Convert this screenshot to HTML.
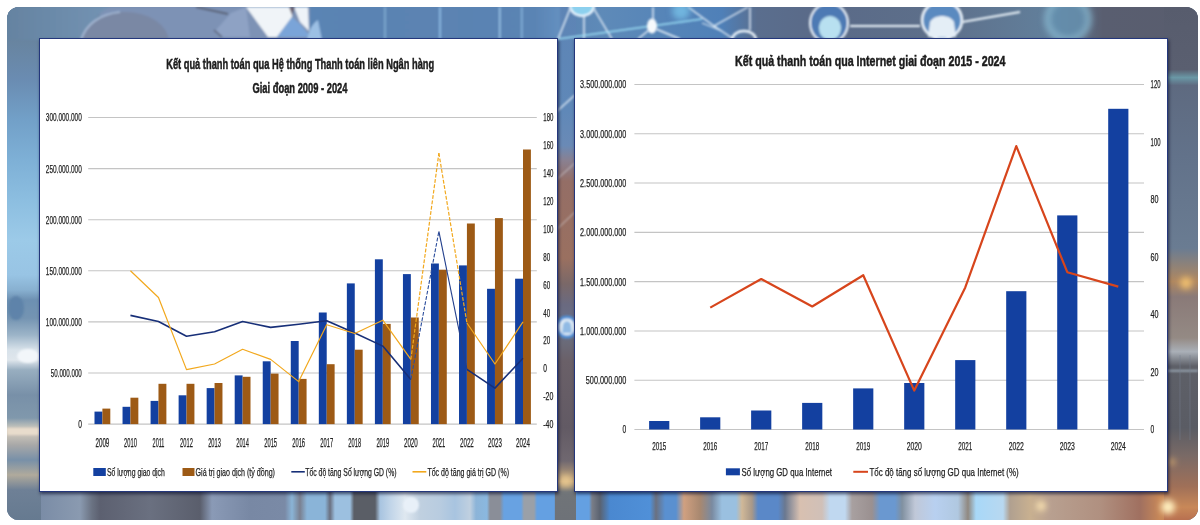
<!DOCTYPE html>
<html><head><meta charset="utf-8">
<style>
html,body{margin:0;padding:0;background:#fff;}
body{width:1200px;height:525px;position:relative;overflow:hidden;font-family:"Liberation Sans",sans-serif;}
.photo{position:absolute;left:7px;top:7px;width:1191px;height:513px;border-radius:12px;overflow:hidden;background:#6a7f98;}
.photo div{position:absolute;}
.panel{position:absolute;background:#fff;border:1px solid #24377c;box-shadow:1px 2px 3px rgba(10,15,45,.65);box-sizing:border-box;}
svg.main{position:absolute;left:0;top:0;filter:blur(0.35px);}
svg text{font-family:"Liberation Sans",sans-serif;stroke:#1a1a1a;stroke-width:0.25px;paint-order:stroke;}
svg text.t{stroke-width:0.5px;}
</style></head><body>
<div class="photo">
 <svg width="1191" height="513" viewBox="7 7 1191 513" style="position:absolute;left:0;top:0">
  <defs>
   <filter id="b1" x="-5%" y="-5%" width="110%" height="110%"><feGaussianBlur stdDeviation="1.2"/></filter>
   <filter id="b3" x="-20%" y="-20%" width="140%" height="140%"><feGaussianBlur stdDeviation="3"/></filter>
   <filter id="b6" x="-50%" y="-50%" width="200%" height="200%"><feGaussianBlur stdDeviation="6"/></filter>
   <linearGradient id="gTop" x1="0" x2="1" y1="0" y2="0">
    <stop offset="0" stop-color="#6684a2"/><stop offset="0.06" stop-color="#6c8aa8"/>
    <stop offset="0.14" stop-color="#7a8db0"/><stop offset="0.25" stop-color="#5b84b3"/>
    <stop offset="0.46" stop-color="#5a83b2"/><stop offset="0.5" stop-color="#5e8ab8"/>
    <stop offset="0.6" stop-color="#4f80b8"/><stop offset="0.63" stop-color="#5a6e8e"/>
    <stop offset="0.68" stop-color="#5a6a88"/><stop offset="0.78" stop-color="#5d6f8a"/>
    <stop offset="0.88" stop-color="#62809c"/><stop offset="0.92" stop-color="#595e70"/>
    <stop offset="1" stop-color="#595d6e"/>
   </linearGradient>
   <linearGradient id="gTopL" x1="0" x2="1" y1="0" y2="0"><stop offset="0" stop-color="#6583a1"/><stop offset="1" stop-color="#7393b3"/></linearGradient>
   <linearGradient id="gTopM" x1="0" x2="1" y1="0" y2="0"><stop offset="0" stop-color="#5a84b4"/><stop offset="0.5" stop-color="#5b83b2"/><stop offset="0.9" stop-color="#5a84b4"/><stop offset="1" stop-color="#6490c0"/></linearGradient>
   <linearGradient id="gLeft" x1="0" x2="0" y1="0" y2="1">
    <stop offset="0.0000" stop-color="#647f9c"/>
    <stop offset="0.0643" stop-color="#68849f"/>
    <stop offset="0.1423" stop-color="#6a8cb2"/>
    <stop offset="0.2203" stop-color="#72a0c8"/>
    <stop offset="0.2982" stop-color="#7eb0d6"/>
    <stop offset="0.3762" stop-color="#8cbee0"/>
    <stop offset="0.4542" stop-color="#9ccae8"/>
    <stop offset="0.5224" stop-color="#98c4e4"/>
    <stop offset="0.5517" stop-color="#88b0d0"/>
    <stop offset="0.5712" stop-color="#6d90b2"/>
    <stop offset="0.6062" stop-color="#7494b2"/>
    <stop offset="0.6394" stop-color="#9cb4c8"/>
    <stop offset="0.6686" stop-color="#d8e2ea"/>
    <stop offset="0.6881" stop-color="#dfe6ec"/>
    <stop offset="0.7076" stop-color="#98aec0"/>
    <stop offset="0.7563" stop-color="#7890a8"/>
    <stop offset="0.8012" stop-color="#8098ac"/>
    <stop offset="0.8246" stop-color="#d8d0c0"/>
    <stop offset="0.8538" stop-color="#a8a8a8"/>
    <stop offset="0.8830" stop-color="#7890a8"/>
    <stop offset="0.9123" stop-color="#b0aa9c"/>
    <stop offset="0.9415" stop-color="#6e8096"/>
    <stop offset="1.0000" stop-color="#667a90"/>
   </linearGradient>
   <linearGradient id="gRight" x1="0" x2="0" y1="0" y2="1">
    <stop offset="0" stop-color="#575c6d"/><stop offset="0.122" stop-color="#5a5f70"/>
    <stop offset="0.1376" stop-color="#6a98a6"/><stop offset="0.153" stop-color="#5e6a80"/>
    <stop offset="0.29" stop-color="#62728a"/><stop offset="0.47" stop-color="#6a7c92"/>
    <stop offset="0.535" stop-color="#b08860"/><stop offset="0.565" stop-color="#8a7a78"/>
    <stop offset="0.645" stop-color="#948a84"/><stop offset="0.672" stop-color="#aab0b8"/>
    <stop offset="0.70" stop-color="#5e6068"/><stop offset="0.82" stop-color="#5a5c64"/>
    <stop offset="0.875" stop-color="#7a6a66"/><stop offset="0.935" stop-color="#a07058"/>
    <stop offset="0.975" stop-color="#c88858"/><stop offset="1" stop-color="#b87050"/>
   </linearGradient>
   <linearGradient id="gMid" x1="0" x2="0" y1="0" y2="1">
    <stop offset="0" stop-color="#5d84b5"/><stop offset="0.2" stop-color="#5f88b8"/>
    <stop offset="0.27" stop-color="#6a8ab6"/><stop offset="0.30" stop-color="#8a8090"/>
    <stop offset="0.34" stop-color="#946e66"/><stop offset="0.49" stop-color="#9a7060"/>
    <stop offset="0.54" stop-color="#7a6868"/><stop offset="0.58" stop-color="#6a6a80"/>
    <stop offset="0.62" stop-color="#6a7088"/><stop offset="0.655" stop-color="#6a6a78"/>
    <stop offset="0.69" stop-color="#6a6068"/>
    <stop offset="0.82" stop-color="#625a64"/><stop offset="0.885" stop-color="#706870"/>
    <stop offset="0.925" stop-color="#c8a878"/><stop offset="0.945" stop-color="#707478"/>
    <stop offset="1" stop-color="#6e7278"/>
   </linearGradient>
   <linearGradient id="gBot" x1="0" x2="1" y1="0" y2="0">
    <stop offset="0.0000" stop-color="#6784a3"/>
    <stop offset="0.0277" stop-color="#7a8ca6"/>
    <stop offset="0.0613" stop-color="#8a9ab0"/>
    <stop offset="0.0714" stop-color="#6a7282"/>
    <stop offset="0.0781" stop-color="#5c6070"/>
    <stop offset="0.1201" stop-color="#6a7080"/>
    <stop offset="0.1620" stop-color="#5a5e6c"/>
    <stop offset="0.1721" stop-color="#8a9ab6"/>
    <stop offset="0.2040" stop-color="#7888a4"/>
    <stop offset="0.2334" stop-color="#7a8aa6"/>
    <stop offset="0.2393" stop-color="#8ab4d6"/>
    <stop offset="0.2460" stop-color="#7a8090"/>
    <stop offset="0.2519" stop-color="#8ab4d8"/>
    <stop offset="0.2670" stop-color="#8ab4d8"/>
    <stop offset="0.2712" stop-color="#6a7080"/>
    <stop offset="0.2754" stop-color="#9cc0e0"/>
    <stop offset="0.2880" stop-color="#9cc0e0"/>
    <stop offset="0.2914" stop-color="#5a5e66"/>
    <stop offset="0.3090" stop-color="#5a5e66"/>
    <stop offset="0.3132" stop-color="#a8c4e0"/>
    <stop offset="0.3216" stop-color="#c0d4e8"/>
    <stop offset="0.3342" stop-color="#dfe8f0"/>
    <stop offset="0.3468" stop-color="#c0d0e0"/>
    <stop offset="0.3636" stop-color="#b8cce0"/>
    <stop offset="0.3762" stop-color="#a8c4e0"/>
    <stop offset="0.3887" stop-color="#c0d0e0"/>
    <stop offset="0.3938" stop-color="#8cb4d8"/>
    <stop offset="0.4030" stop-color="#8ab8e0"/>
    <stop offset="0.4055" stop-color="#8a8e98"/>
    <stop offset="0.4139" stop-color="#8a8e98"/>
    <stop offset="0.4173" stop-color="#68a2e2"/>
    <stop offset="0.4316" stop-color="#68a2e2"/>
    <stop offset="0.4341" stop-color="#9aa0a8"/>
    <stop offset="0.4425" stop-color="#9aa0a8"/>
    <stop offset="0.4450" stop-color="#64a0e2"/>
    <stop offset="0.4593" stop-color="#64a0e2"/>
    <stop offset="0.4618" stop-color="#707478"/>
    <stop offset="0.4727" stop-color="#707478"/>
    <stop offset="0.4752" stop-color="#64a0e2"/>
    <stop offset="0.4887" stop-color="#64a0e2"/>
    <stop offset="0.4912" stop-color="#7a7e88"/>
    <stop offset="0.4979" stop-color="#5a6270"/>
    <stop offset="0.5063" stop-color="#4a88d0"/>
    <stop offset="0.5399" stop-color="#5090d8"/>
    <stop offset="0.5449" stop-color="#6a7080"/>
    <stop offset="0.5525" stop-color="#5a90d0"/>
    <stop offset="0.5617" stop-color="#5a90d0"/>
    <stop offset="0.5684" stop-color="#d0a080"/>
    <stop offset="0.5819" stop-color="#a88870"/>
    <stop offset="0.5919" stop-color="#7a8aa0"/>
    <stop offset="0.6003" stop-color="#9ac0e0"/>
    <stop offset="0.6121" stop-color="#9ac0e0"/>
    <stop offset="0.6171" stop-color="#d0b898"/>
    <stop offset="0.6255" stop-color="#a89888"/>
    <stop offset="0.6306" stop-color="#5a88c8"/>
    <stop offset="0.6474" stop-color="#5a88c8"/>
    <stop offset="0.6532" stop-color="#6a7890"/>
    <stop offset="0.6658" stop-color="#d8c0b0"/>
    <stop offset="0.6843" stop-color="#d0c0b8"/>
    <stop offset="0.6910" stop-color="#c0d8f0"/>
    <stop offset="0.7036" stop-color="#c0d8f0"/>
    <stop offset="0.7095" stop-color="#a8a0a0"/>
    <stop offset="0.7263" stop-color="#9a9090"/>
    <stop offset="0.7330" stop-color="#6a98d0"/>
    <stop offset="0.7456" stop-color="#6a98d0"/>
    <stop offset="0.7515" stop-color="#8090a0"/>
    <stop offset="0.7624" stop-color="#c0c8d8"/>
    <stop offset="0.7792" stop-color="#b8d0f0"/>
    <stop offset="0.7985" stop-color="#b0c8e0"/>
    <stop offset="0.8069" stop-color="#908880"/>
    <stop offset="0.8136" stop-color="#a8d8f8"/>
    <stop offset="0.8363" stop-color="#b8d8f0"/>
    <stop offset="0.8421" stop-color="#b0a090"/>
    <stop offset="0.8589" stop-color="#c8b090"/>
    <stop offset="0.8757" stop-color="#b8a090"/>
    <stop offset="0.9177" stop-color="#b09080"/>
    <stop offset="0.9513" stop-color="#a07060"/>
    <stop offset="0.9681" stop-color="#c88858"/>
    <stop offset="0.9849" stop-color="#c07850"/>
    <stop offset="1.0000" stop-color="#b06848"/>
   </linearGradient>
  </defs>
  <rect x="7" y="7" width="1191" height="513" fill="#6a7f98"/>
  <rect x="7" y="7" width="1191" height="36" fill="url(#gTop)"/>
  <rect x="7" y="485" width="1191" height="35" fill="url(#gBot)"/>
  <rect x="7" y="7" width="34" height="513" fill="url(#gLeft)"/>
  <rect x="1164" y="7" width="34" height="513" fill="url(#gRight)"/>
  <rect x="555" y="7" width="21" height="513" fill="url(#gMid)"/>
  <g filter="url(#b1)">
   <!-- suit area -->
   <path d="M100 7 L 312 7 L 312 40 L 100 40 Z" fill="#7d92b5"/>
   <path d="M7 7 L 110 7 C 100 12, 90 20, 84 40 L 7 40 Z" fill="url(#gTopL)"/>
   <!-- shoulder dome -->
   <ellipse cx="125" cy="42" rx="44" ry="30" fill="#7a88a4"/>
   <path d="M81 40 C 86 24, 100 14, 120 12" stroke="#a8bcd8" stroke-width="1.6" fill="none"/>
   <!-- shadow line -->
   <path d="M196 7 L 228 14" stroke="#5a6276" stroke-width="2" fill="none"/>
   <!-- lapel -->
   <path d="M216 30 L 231 13 L 246 7 L 250 37 L 222 37 Z" fill="#8ea2c4"/>
   <path d="M214 30 L 222 37" stroke="#5a6276" stroke-width="1.5"/>
   <!-- shirt white -->
   <path d="M246 7 L 292 7 L 292 17 L 277 37 L 268 37 Z" fill="#f0f4f8"/>
   <!-- tie -->
   <path d="M292 17 L 300 24 L 311 37 L 277 37 Z" fill="#7aa4d8"/>
   <path d="M294 7 L 308 7 L 309 31 L 300 22 Z" fill="#eef3f8"/>
   <path d="M289 7 L 295 7 L 292 15 Z" fill="#6a6070"/>
   <!-- right blue -->
   <path d="M310 7 L 560 7 L 560 40 L 309 40 Z" fill="url(#gTopM)"/>
   <path d="M307 40 C 309 30, 312 24, 318 20 L 322 40 Z" fill="#9cc0e4"/>
   <!-- vertical light lines -->
   <rect x="384" y="7" width="2" height="33" fill="#7aa4cc"/>
   <rect x="439" y="7" width="2" height="33" fill="#86b2dc"/>
   <rect x="499" y="7" width="1.5" height="33" fill="#9ac4e8"/>
   <rect x="521" y="7" width="1.5" height="33" fill="#86b2dc"/>
  </g>
  <g filter="url(#b1)" stroke="#eef6fc" fill="none" stroke-width="1.4">
   <path d="M570 9 L 558 39"/>
   <path d="M594 9 L 612 39"/>
   <path d="M584 15 L 584 39"/>
   <path d="M558 39 L 702 19" stroke="#9ee0f6" stroke-width="1.6"/>
   <path d="M653 7 L 653 20"/>
   <path d="M649 30 L 638 39"/>
   <path d="M656 29 L 680 39"/>
   <path d="M688 7 L 714 26 L 748 7"/>
   <path d="M714 26 L 732 38"/>
   <path d="M702 23 L 722 31" stroke-width="1"/>
   <path d="M750 7 L 750 30"/>
   <path d="M732 40 C 733 28, 755 28, 756 40" stroke-width="2.4"/>
   <path d="M850 26 L 920 26" stroke-width="2"/>
   <path d="M962 22 L 1020 12" stroke-width="1.8"/>
   <path d="M556 112 L 575 95" stroke-width="1.2"/>
   <path d="M556 180 L 575 163" stroke-width="1" opacity="0.7"/>
   <path d="M556 230 L 575 212" stroke-width="1" opacity="0.7"/>
  </g>
  <g filter="url(#b1)">
   <ellipse cx="582" cy="6" rx="12" ry="10" fill="#8cd0ee" stroke="#f0f8ff" stroke-width="2"/>
   <ellipse cx="652" cy="26" rx="5" ry="7.5" fill="#f6f9fc"/>
   <ellipse cx="829" cy="23" rx="19" ry="20" fill="#4e7ab4" stroke="#eef6fc" stroke-width="2"/>
   <ellipse cx="830" cy="28" rx="11" ry="12" fill="#b8e0f0"/>
   <ellipse cx="942" cy="20" rx="20" ry="19" fill="#5a8ac0" stroke="#eef6fc" stroke-width="2.5"/>
   <path d="M928 37 L 930 22 C 934 14, 950 14, 954 22 L 956 37 Z" fill="#e4eef6"/>
  </g>
  <g filter="url(#b3)">
   <circle cx="1068" cy="19" r="21" fill="#6490ae" stroke="#8cbcd4" stroke-width="5" opacity="0.85"/>
   <circle cx="681" cy="11" r="9" fill="#7ecbf0" opacity="0.7"/>
  </g>
  <g filter="url(#b3)">
   <circle cx="1186" cy="283" r="6" fill="#f0c070"/>
   <circle cx="1168" cy="507" r="7" fill="#fff0c0"/>
   <circle cx="1041" cy="506" r="5" fill="#f8e0b0"/>
   <circle cx="1172" cy="462" r="3" fill="#e0b070"/>
   <circle cx="566" cy="481" r="6" fill="#e8c890"/>
  </g>
  <g filter="url(#b1)">
   <circle cx="567" cy="327" r="10" fill="#e0ecf6" stroke="#4f8fd6" stroke-width="3"/>
   <path d="M562 333 L 563 325 C 564 320, 570 320, 571 325 L 572 333 Z" fill="#5a9ad8" opacity="0.6"/>
   <ellipse cx="28" cy="356" rx="11" ry="7" fill="#f2f6fa"/>
   <ellipse cx="16" cy="308" rx="8" ry="12" fill="#5a80a8" opacity="0.8"/>
   <rect x="7" y="428" width="32" height="7" fill="#e8dccc"/>
   <circle cx="411" cy="505" r="8" fill="#e8f0f8"/>
   <rect x="1164" y="370" width="34" height="1.5" fill="#a8b8c8"/>
  </g>
  <g stroke="#7a8090" stroke-width="0.8" opacity="0.6">
   <line x1="1180" y1="355" x2="1180" y2="440"/>
   <line x1="1190" y1="355" x2="1190" y2="440"/>
  </g>
 </svg>
</div>
<div class="panel" style="left:39px;top:38px;width:519px;height:454px;"></div>
<div class="panel" style="left:574px;top:38px;width:594px;height:454px;"></div>
<svg class="main" width="1200" height="525" viewBox="0 0 1200 525">
<line x1="88.2" y1="117.50" x2="536.8" y2="117.50" stroke="#c4c4c4" stroke-width="1.1"/>
<line x1="88.2" y1="168.60" x2="536.8" y2="168.60" stroke="#c4c4c4" stroke-width="1.1"/>
<line x1="88.2" y1="219.70" x2="536.8" y2="219.70" stroke="#c4c4c4" stroke-width="1.1"/>
<line x1="88.2" y1="270.80" x2="536.8" y2="270.80" stroke="#c4c4c4" stroke-width="1.1"/>
<line x1="88.2" y1="321.90" x2="536.8" y2="321.90" stroke="#c4c4c4" stroke-width="1.1"/>
<line x1="88.2" y1="373.00" x2="536.8" y2="373.00" stroke="#c4c4c4" stroke-width="1.1"/>
<line x1="88.2" y1="424.10" x2="536.8" y2="424.10" stroke="#c4c4c4" stroke-width="1.1"/>
<rect x="94.50" y="411.60" width="7.9" height="12.50" fill="#1340a0"/>
<rect x="102.40" y="408.60" width="7.9" height="15.50" fill="#9d5a15"/>
<rect x="122.54" y="406.80" width="7.9" height="17.30" fill="#1340a0"/>
<rect x="130.44" y="397.70" width="7.9" height="26.40" fill="#9d5a15"/>
<rect x="150.58" y="400.90" width="7.9" height="23.20" fill="#1340a0"/>
<rect x="158.48" y="383.80" width="7.9" height="40.30" fill="#9d5a15"/>
<rect x="178.62" y="395.30" width="7.9" height="28.80" fill="#1340a0"/>
<rect x="186.52" y="383.80" width="7.9" height="40.30" fill="#9d5a15"/>
<rect x="206.66" y="388.10" width="7.9" height="36.00" fill="#1340a0"/>
<rect x="214.56" y="383.00" width="7.9" height="41.10" fill="#9d5a15"/>
<rect x="234.70" y="375.40" width="7.9" height="48.70" fill="#1340a0"/>
<rect x="242.60" y="376.80" width="7.9" height="47.30" fill="#9d5a15"/>
<rect x="262.74" y="361.30" width="7.9" height="62.80" fill="#1340a0"/>
<rect x="270.64" y="373.60" width="7.9" height="50.50" fill="#9d5a15"/>
<rect x="290.78" y="341.00" width="7.9" height="83.10" fill="#1340a0"/>
<rect x="298.68" y="378.90" width="7.9" height="45.20" fill="#9d5a15"/>
<rect x="318.82" y="312.50" width="7.9" height="111.60" fill="#1340a0"/>
<rect x="326.72" y="364.20" width="7.9" height="59.90" fill="#9d5a15"/>
<rect x="346.86" y="283.40" width="7.9" height="140.70" fill="#1340a0"/>
<rect x="354.76" y="349.70" width="7.9" height="74.40" fill="#9d5a15"/>
<rect x="374.90" y="259.30" width="7.9" height="164.80" fill="#1340a0"/>
<rect x="382.80" y="323.90" width="7.9" height="100.20" fill="#9d5a15"/>
<rect x="402.94" y="274.10" width="7.9" height="150.00" fill="#1340a0"/>
<rect x="410.84" y="317.50" width="7.9" height="106.60" fill="#9d5a15"/>
<rect x="430.98" y="263.50" width="7.9" height="160.60" fill="#1340a0"/>
<rect x="438.88" y="269.70" width="7.9" height="154.40" fill="#9d5a15"/>
<rect x="459.02" y="265.40" width="7.9" height="158.70" fill="#1340a0"/>
<rect x="466.92" y="223.50" width="7.9" height="200.60" fill="#9d5a15"/>
<rect x="487.06" y="288.80" width="7.9" height="135.30" fill="#1340a0"/>
<rect x="494.96" y="218.10" width="7.9" height="206.00" fill="#9d5a15"/>
<rect x="515.10" y="278.70" width="7.9" height="145.40" fill="#1340a0"/>
<rect x="523.00" y="149.50" width="7.9" height="274.60" fill="#9d5a15"/>
<polyline points="130.44,315.40 158.48,321.50 186.52,336.20 214.56,331.70 242.60,321.50 270.64,327.40 298.68,324.20 326.72,320.70 354.76,333.00 382.80,346.10 410.84,379.40" fill="none" stroke="#172f78" stroke-width="1.6" stroke-linejoin="round"/>
<polyline points="466.92,369.40 494.96,388.10 523.00,358.20" fill="none" stroke="#172f78" stroke-width="1.6" stroke-linejoin="round"/>
<line x1="410.84" y1="379.4" x2="438.88" y2="231.4" stroke="#2a4c9c" stroke-width="1.1" stroke-dasharray="3.8 1.6"/>
<polyline points="438.88,231.4 466.92,369.4" fill="none" stroke="#223f8c" stroke-width="1.1"/>
<line x1="410.84" y1="359.40" x2="438.88" y2="153.20" stroke="#f2a81d" stroke-width="1.2" stroke-dasharray="3.8 1.6"/>
<line x1="438.88" y1="153.20" x2="466.92" y2="323.00" stroke="#f2a81d" stroke-width="1.2" stroke-dasharray="3.8 1.6"/>
<polyline points="130.44,270.80 158.48,297.50 186.52,369.60 214.56,364.00 242.60,349.30 270.64,359.40 298.68,381.60 326.72,324.70 354.76,333.50 382.80,320.20 410.84,359.40" fill="none" stroke="#f2a81d" stroke-width="1.2" stroke-linejoin="round"/>
<polyline points="466.92,323.00 494.96,364.00 523.00,321.90" fill="none" stroke="#f2a81d" stroke-width="1.2" stroke-linejoin="round"/>
<text x="45.8" y="121.40" font-size="11" fill="#222" textLength="36" lengthAdjust="spacingAndGlyphs">300.000.000</text>
<text x="45.8" y="172.50" font-size="11" fill="#222" textLength="36" lengthAdjust="spacingAndGlyphs">250.000.000</text>
<text x="45.8" y="223.60" font-size="11" fill="#222" textLength="36" lengthAdjust="spacingAndGlyphs">200.000.000</text>
<text x="45.8" y="274.70" font-size="11" fill="#222" textLength="36" lengthAdjust="spacingAndGlyphs">150.000.000</text>
<text x="45.8" y="325.80" font-size="11" fill="#222" textLength="36" lengthAdjust="spacingAndGlyphs">100.000.000</text>
<text x="50.8" y="376.90" font-size="11" fill="#222" textLength="31" lengthAdjust="spacingAndGlyphs">50.000.000</text>
<text x="78.2" y="428.00" font-size="11" fill="#222" textLength="3.7" lengthAdjust="spacingAndGlyphs">0</text>
<text x="543.3" y="121.40" font-size="11" fill="#222" textLength="10.1" lengthAdjust="spacingAndGlyphs">180</text>
<text x="543.3" y="149.27" font-size="11" fill="#222" textLength="10.1" lengthAdjust="spacingAndGlyphs">160</text>
<text x="543.3" y="177.15" font-size="11" fill="#222" textLength="10.1" lengthAdjust="spacingAndGlyphs">140</text>
<text x="543.3" y="205.02" font-size="11" fill="#222" textLength="10.1" lengthAdjust="spacingAndGlyphs">120</text>
<text x="543.3" y="232.89" font-size="11" fill="#222" textLength="10.1" lengthAdjust="spacingAndGlyphs">100</text>
<text x="543.3" y="260.76" font-size="11" fill="#222" textLength="6.9" lengthAdjust="spacingAndGlyphs">80</text>
<text x="543.3" y="288.64" font-size="11" fill="#222" textLength="6.9" lengthAdjust="spacingAndGlyphs">60</text>
<text x="543.3" y="316.51" font-size="11" fill="#222" textLength="6.9" lengthAdjust="spacingAndGlyphs">40</text>
<text x="543.3" y="344.38" font-size="11" fill="#222" textLength="6.9" lengthAdjust="spacingAndGlyphs">20</text>
<text x="543.3" y="372.25" font-size="11" fill="#222" textLength="3.7" lengthAdjust="spacingAndGlyphs">0</text>
<text x="543.3" y="400.13" font-size="11" fill="#222" textLength="10.1" lengthAdjust="spacingAndGlyphs">-20</text>
<text x="543.3" y="428.00" font-size="11" fill="#222" textLength="10.1" lengthAdjust="spacingAndGlyphs">-40</text>
<text x="95.50" y="446.6" font-size="12" fill="#222" textLength="13.8" lengthAdjust="spacingAndGlyphs">2009</text>
<text x="124.04" y="446.6" font-size="12" fill="#222" textLength="12.8" lengthAdjust="spacingAndGlyphs">2010</text>
<text x="152.58" y="446.6" font-size="12" fill="#222" textLength="11.8" lengthAdjust="spacingAndGlyphs">2011</text>
<text x="180.12" y="446.6" font-size="12" fill="#222" textLength="12.8" lengthAdjust="spacingAndGlyphs">2012</text>
<text x="208.16" y="446.6" font-size="12" fill="#222" textLength="12.8" lengthAdjust="spacingAndGlyphs">2013</text>
<text x="236.20" y="446.6" font-size="12" fill="#222" textLength="12.8" lengthAdjust="spacingAndGlyphs">2014</text>
<text x="264.24" y="446.6" font-size="12" fill="#222" textLength="12.8" lengthAdjust="spacingAndGlyphs">2015</text>
<text x="292.28" y="446.6" font-size="12" fill="#222" textLength="12.8" lengthAdjust="spacingAndGlyphs">2016</text>
<text x="320.32" y="446.6" font-size="12" fill="#222" textLength="12.8" lengthAdjust="spacingAndGlyphs">2017</text>
<text x="348.36" y="446.6" font-size="12" fill="#222" textLength="12.8" lengthAdjust="spacingAndGlyphs">2018</text>
<text x="376.40" y="446.6" font-size="12" fill="#222" textLength="12.8" lengthAdjust="spacingAndGlyphs">2019</text>
<text x="403.94" y="446.6" font-size="12" fill="#222" textLength="13.8" lengthAdjust="spacingAndGlyphs">2020</text>
<text x="432.48" y="446.6" font-size="12" fill="#222" textLength="12.8" lengthAdjust="spacingAndGlyphs">2021</text>
<text x="460.02" y="446.6" font-size="12" fill="#222" textLength="13.8" lengthAdjust="spacingAndGlyphs">2022</text>
<text x="488.06" y="446.6" font-size="12" fill="#222" textLength="13.8" lengthAdjust="spacingAndGlyphs">2023</text>
<text x="516.10" y="446.6" font-size="12" fill="#222" textLength="13.8" lengthAdjust="spacingAndGlyphs">2024</text>
<rect x="93.3" y="468" width="12.5" height="8" fill="#1340a0"/>
<text x="107" y="476" font-size="11.5" fill="#222" textLength="57.8" lengthAdjust="spacingAndGlyphs">Số lượng giao dịch</text>
<rect x="182.5" y="468" width="12" height="8" fill="#9d5a15"/>
<text x="195.6" y="476" font-size="11.5" fill="#222" textLength="79.4" lengthAdjust="spacingAndGlyphs">Giá trị giao dịch (tỷ đồng)</text>
<line x1="291.3" y1="471.8" x2="304.8" y2="471.8" stroke="#172f78" stroke-width="1.6"/>
<text x="305.3" y="476" font-size="11.5" fill="#222" textLength="91.2" lengthAdjust="spacingAndGlyphs">Tốc độ tăng Số lượng GD (%)</text>
<line x1="412.5" y1="471.8" x2="426.3" y2="471.8" stroke="#f2a81d" stroke-width="1.6"/>
<text x="427.4" y="476" font-size="11.5" fill="#222" textLength="81.6" lengthAdjust="spacingAndGlyphs">Tốc độ tăng giá trị GD (%)</text>
<text x="166.2" y="68.8" class="t" font-size="15.2" font-weight="bold" fill="#1b1b1b" textLength="268" lengthAdjust="spacingAndGlyphs">Kết quả thanh toán qua Hệ thống Thanh toán liên Ngân hàng</text>
<text x="252.5" y="93.1" class="t" font-size="15.2" font-weight="bold" fill="#1b1b1b" textLength="95" lengthAdjust="spacingAndGlyphs">Giai đoạn 2009 - 2024</text>
<line x1="634.4" y1="84.50" x2="1144" y2="84.50" stroke="#c4c4c4" stroke-width="1.1"/>
<line x1="634.4" y1="133.79" x2="1144" y2="133.79" stroke="#c4c4c4" stroke-width="1.1"/>
<line x1="634.4" y1="183.07" x2="1144" y2="183.07" stroke="#c4c4c4" stroke-width="1.1"/>
<line x1="634.4" y1="232.36" x2="1144" y2="232.36" stroke="#c4c4c4" stroke-width="1.1"/>
<line x1="634.4" y1="281.64" x2="1144" y2="281.64" stroke="#c4c4c4" stroke-width="1.1"/>
<line x1="634.4" y1="330.93" x2="1144" y2="330.93" stroke="#c4c4c4" stroke-width="1.1"/>
<line x1="634.4" y1="380.21" x2="1144" y2="380.21" stroke="#c4c4c4" stroke-width="1.1"/>
<line x1="634.4" y1="429.50" x2="1144" y2="429.50" stroke="#c4c4c4" stroke-width="1.1"/>
<rect x="649.11" y="421.00" width="20.2" height="8.50" fill="#1340a0"/>
<rect x="700.12" y="417.30" width="20.2" height="12.20" fill="#1340a0"/>
<rect x="751.12" y="410.50" width="20.2" height="19.00" fill="#1340a0"/>
<rect x="802.13" y="402.90" width="20.2" height="26.60" fill="#1340a0"/>
<rect x="853.14" y="388.40" width="20.2" height="41.10" fill="#1340a0"/>
<rect x="904.16" y="383.00" width="20.2" height="46.50" fill="#1340a0"/>
<rect x="955.17" y="360.10" width="20.2" height="69.40" fill="#1340a0"/>
<rect x="1006.18" y="291.20" width="20.2" height="138.30" fill="#1340a0"/>
<rect x="1057.19" y="215.40" width="20.2" height="214.10" fill="#1340a0"/>
<rect x="1108.20" y="108.80" width="20.2" height="320.70" fill="#1340a0"/>
<polyline points="710.22,307.60 761.23,279.00 812.24,306.50 863.25,275.20 914.26,390.60 965.27,287.40 1016.28,146.10 1067.29,272.20 1118.30,286.60" fill="none" stroke="#d7451c" stroke-width="2.2" stroke-linejoin="round"/>
<text x="580.10" y="88.40" font-size="11" fill="#222" textLength="46.3" lengthAdjust="spacingAndGlyphs">3.500.000.000</text>
<text x="580.10" y="137.69" font-size="11" fill="#222" textLength="46.3" lengthAdjust="spacingAndGlyphs">3.000.000.000</text>
<text x="580.10" y="186.97" font-size="11" fill="#222" textLength="46.3" lengthAdjust="spacingAndGlyphs">2.500.000.000</text>
<text x="580.10" y="236.26" font-size="11" fill="#222" textLength="46.3" lengthAdjust="spacingAndGlyphs">2.000.000.000</text>
<text x="580.10" y="285.54" font-size="11" fill="#222" textLength="46.3" lengthAdjust="spacingAndGlyphs">1.500.000.000</text>
<text x="580.10" y="334.83" font-size="11" fill="#222" textLength="46.3" lengthAdjust="spacingAndGlyphs">1.000.000.000</text>
<text x="585.80" y="384.11" font-size="11" fill="#222" textLength="40.6" lengthAdjust="spacingAndGlyphs">500.000.000</text>
<text x="622.4" y="433.40" font-size="11" fill="#222" textLength="3.7" lengthAdjust="spacingAndGlyphs">0</text>
<text x="1150.6" y="88.40" font-size="11" fill="#222" textLength="9.9" lengthAdjust="spacingAndGlyphs">120</text>
<text x="1150.6" y="145.90" font-size="11" fill="#222" textLength="9.9" lengthAdjust="spacingAndGlyphs">100</text>
<text x="1150.6" y="203.40" font-size="11" fill="#222" textLength="8.0" lengthAdjust="spacingAndGlyphs">80</text>
<text x="1150.6" y="260.90" font-size="11" fill="#222" textLength="8.0" lengthAdjust="spacingAndGlyphs">60</text>
<text x="1150.6" y="318.40" font-size="11" fill="#222" textLength="8.0" lengthAdjust="spacingAndGlyphs">40</text>
<text x="1150.6" y="375.90" font-size="11" fill="#222" textLength="8.0" lengthAdjust="spacingAndGlyphs">20</text>
<text x="1150.6" y="433.40" font-size="11" fill="#222" textLength="3.7" lengthAdjust="spacingAndGlyphs">0</text>
<text x="652.21" y="449.8" font-size="11.5" fill="#222" textLength="14.0" lengthAdjust="spacingAndGlyphs">2015</text>
<text x="703.22" y="449.8" font-size="11.5" fill="#222" textLength="14.0" lengthAdjust="spacingAndGlyphs">2016</text>
<text x="754.23" y="449.8" font-size="11.5" fill="#222" textLength="14.0" lengthAdjust="spacingAndGlyphs">2017</text>
<text x="805.24" y="449.8" font-size="11.5" fill="#222" textLength="14.0" lengthAdjust="spacingAndGlyphs">2018</text>
<text x="856.25" y="449.8" font-size="11.5" fill="#222" textLength="14.0" lengthAdjust="spacingAndGlyphs">2019</text>
<text x="906.66" y="449.8" font-size="11.5" fill="#222" textLength="15.2" lengthAdjust="spacingAndGlyphs">2020</text>
<text x="958.27" y="449.8" font-size="11.5" fill="#222" textLength="14.0" lengthAdjust="spacingAndGlyphs">2021</text>
<text x="1008.68" y="449.8" font-size="11.5" fill="#222" textLength="15.2" lengthAdjust="spacingAndGlyphs">2022</text>
<text x="1059.69" y="449.8" font-size="11.5" fill="#222" textLength="15.2" lengthAdjust="spacingAndGlyphs">2023</text>
<text x="1110.70" y="449.8" font-size="11.5" fill="#222" textLength="15.2" lengthAdjust="spacingAndGlyphs">2024</text>
<rect x="725.9" y="468.3" width="14" height="7" fill="#1340a0"/>
<text x="741.5" y="476" font-size="11.5" fill="#222" textLength="90.5" lengthAdjust="spacingAndGlyphs">Số lượng GD qua Internet</text>
<line x1="853.3" y1="471.8" x2="868" y2="471.8" stroke="#d7451c" stroke-width="2"/>
<text x="869.5" y="476" font-size="11.5" fill="#222" textLength="149.2" lengthAdjust="spacingAndGlyphs">Tốc độ tăng số lượng GD qua Internet (%)</text>
<text x="735" y="66.3" class="t" font-size="15.2" font-weight="bold" fill="#1b1b1b" textLength="270.5" lengthAdjust="spacingAndGlyphs">Kết quả thanh toán qua Internet giai đoạn 2015 - 2024</text>
</svg>
</body></html>
